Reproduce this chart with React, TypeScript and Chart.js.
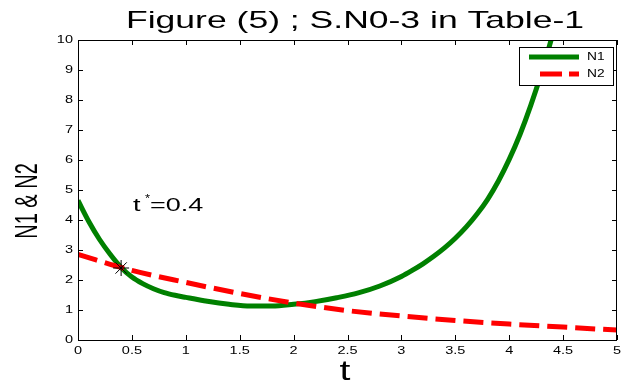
import { useEffect, useRef } from "react";
import { Chart, registerables } from "chart.js";

Chart.register(...registerables);

// Population curves
const tN1 = [0, 0.1, 0.2, 0.3, 0.4, 0.5, 0.6, 0.7, 0.8, 0.9, 1.0, 1.2, 1.4, 1.6, 1.8, 2.0, 2.2, 2.4, 2.6, 2.8, 3.0, 3.1, 3.2, 3.3, 3.4, 3.5, 3.6, 3.7, 3.8, 3.9, 4.0, 4.1, 4.2, 4.3, 4.4, 4.5];
const n1 = [4.65, 3.95, 3.35, 2.85, 2.42, 2.1, 1.88, 1.71, 1.58, 1.49, 1.42, 1.29, 1.19, 1.13, 1.13, 1.19, 1.28, 1.41, 1.57, 1.8, 2.12, 2.32, 2.54, 2.79, 3.07, 3.39, 3.76, 4.19, 4.69, 5.3, 6.02, 6.85, 7.82, 8.92, 10.15, 11.6];

const tN2 = [0, 0.5, 1.0, 1.5, 2.0, 2.5, 3.0, 3.5, 4.0, 4.5, 5.0];
const n2 = [2.85, 2.32, 1.92, 1.55, 1.23, 0.98, 0.8, 0.65, 0.53, 0.43, 0.33];

// Crossing point t* = 0.4
const starT = 0.4;
const starValue = 2.4;

const titleText = "Figure (5) ; S.N0-3 in Table-1";
const xLabel = "t";
const yLabel = "N1 & N2";
const seriesNames = ["N1", "N2"];

const FONT = "'Liberation Sans', Arial, sans-serif";

function stretchedText(
  ctx: CanvasRenderingContext2D,
  text: string,
  x: number,
  y: number,
  size: number,
  sx: number,
  align: CanvasTextAlign,
  baseline: CanvasTextBaseline
) {
  ctx.save();
  ctx.translate(x, y);
  ctx.scale(sx, 1);
  ctx.font = `${size}px ${FONT}`;
  ctx.textAlign = align;
  ctx.textBaseline = baseline;
  ctx.fillText(text, 0, 0);
  ctx.restore();
}

const frame = {
  id: "frame",
  afterDraw(chart: any) {
    const { ctx, chartArea: a, scales } = chart;
    const xs = scales.x;
    const ys = scales.y;
    ctx.save();
    ctx.fillStyle = "#000";
    ctx.strokeStyle = "#000";
    ctx.lineWidth = 1;

    // box
    ctx.strokeRect(a.left + 0.5, a.top + 0.5, a.right - a.left - 1, a.bottom - a.top);

    // inward ticks and labels
    const tl = 5;
    ctx.beginPath();
    for (const tk of xs.ticks) {
      const px = Math.round(xs.getPixelForValue(tk.value)) + 0.5;
      ctx.moveTo(px, a.bottom);
      ctx.lineTo(px, a.bottom - tl);
      ctx.moveTo(px, a.top);
      ctx.lineTo(px, a.top + tl);
    }
    for (const tk of ys.ticks) {
      const py = Math.round(ys.getPixelForValue(tk.value)) + 0.5;
      ctx.moveTo(a.left, py);
      ctx.lineTo(a.left + tl, py);
      ctx.moveTo(a.right, py);
      ctx.lineTo(a.right - tl, py);
    }
    ctx.stroke();

    for (const tk of xs.ticks) {
      const px = xs.getPixelForValue(tk.value);
      stretchedText(ctx, String(tk.value), px, a.bottom + 6, 10, 1.45, "center", "top");
    }
    for (const tk of ys.ticks) {
      const py = ys.getPixelForValue(tk.value);
      stretchedText(ctx, String(tk.value), a.left - 5, py, 10, 1.45, "right", "middle");
    }

    // title and axis titles
    stretchedText(ctx, titleText, 355, 28, 24, 1.48, "center", "alphabetic");
    stretchedText(ctx, xLabel, 345, 380, 28, 1.4, "center", "alphabetic");
    ctx.save();
    ctx.translate(37, 201);
    ctx.rotate(-Math.PI / 2);
    ctx.scale(1, 1.6);
    ctx.font = `20px ${FONT}`;
    ctx.textAlign = "center";
    ctx.textBaseline = "alphabetic";
    ctx.fillText(yLabel, 0, 0);
    ctx.restore();

    // t* annotation
    stretchedText(ctx, "t", 133, 211, 18, 1.5, "left", "alphabetic");
    stretchedText(ctx, "*", 145, 202, 10, 1.3, "left", "alphabetic");
    stretchedText(ctx, "=0.4", 150, 211, 18, 1.5, "left", "alphabetic");

    // legend
    const lx = 519, ly = 47, lw = 94, lh = 38;
    ctx.fillStyle = "#fff";
    ctx.fillRect(lx, ly, lw, lh);
    ctx.strokeRect(lx + 0.5, ly + 0.5, lw, lh);
    ctx.lineWidth = 5;
    ctx.strokeStyle = "#008000";
    ctx.beginPath();
    ctx.moveTo(529, 57);
    ctx.lineTo(579, 57);
    ctx.stroke();
    ctx.strokeStyle = "#ff0000";
    ctx.setLineDash([22, 7]);
    ctx.beginPath();
    ctx.moveTo(540, 74);
    ctx.lineTo(579, 74);
    ctx.stroke();
    ctx.setLineDash([]);
    ctx.fillStyle = "#000";
    stretchedText(ctx, seriesNames[0], 587, 57, 11, 1.25, "left", "middle");
    stretchedText(ctx, seriesNames[1], 587, 74, 11, 1.25, "left", "middle");

    ctx.restore();
  },
};

export default function App() {
  const ref = useRef<HTMLCanvasElement | null>(null);

  useEffect(() => {
    document.body.style.margin = "0";
    const canvas = ref.current;
    if (!canvas) return;

    const chart = new Chart(canvas, {
      type: "line",
      data: {
        datasets: [
          {
            label: "t*",
            data: [{ x: starT, y: starValue }],
            showLine: false,
            pointStyle: "star",
            pointRadius: 8,
            borderColor: "#000",
            backgroundColor: "#000",
            borderWidth: 1,
            order: 0,
          },
          {
            label: seriesNames[1],
            data: tN2.map((t, i) => ({ x: t, y: n2[i] })),
            borderColor: "#ff0000",
            borderWidth: 5,
            borderDash: [20, 8],
            pointRadius: 0,
            cubicInterpolationMode: "monotone",
            fill: false,
            order: 1,
          },
          {
            label: seriesNames[0],
            data: tN1.map((t, i) => ({ x: t, y: n1[i] })),
            borderColor: "#008000",
            borderWidth: 5,
            pointRadius: 0,
            cubicInterpolationMode: "monotone",
            fill: false,
            order: 2,
          },
        ],
      },
      options: {
        animation: false,
        responsive: false,
        maintainAspectRatio: false,
        layout: { padding: { top: 40, right: 4, left: 0, bottom: 0 } },
        plugins: {
          legend: { display: false },
          title: { display: false },
          tooltip: { enabled: false },
        },
        scales: {
          x: {
            type: "linear",
            min: 0,
            max: 5,
            ticks: { stepSize: 0.5, display: false },
            grid: { display: false, drawTicks: false },
            border: { display: false },
            afterFit: (s: any) => {
              s.height = 45;
            },
          },
          y: {
            type: "linear",
            min: 0,
            max: 10,
            ticks: { stepSize: 1, display: false },
            grid: { display: false, drawTicks: false },
            border: { display: false },
            afterFit: (s: any) => {
              s.width = 78;
            },
          },
        },
      },
      plugins: [frame],
    });

    return () => chart.destroy();
  }, []);

  return (
    <div style={{ width: 626, height: 385, background: "#fff" }}>
      <canvas ref={ref} width={626} height={385} style={{ width: 626, height: 385, display: "block" }} />
    </div>
  );
}
